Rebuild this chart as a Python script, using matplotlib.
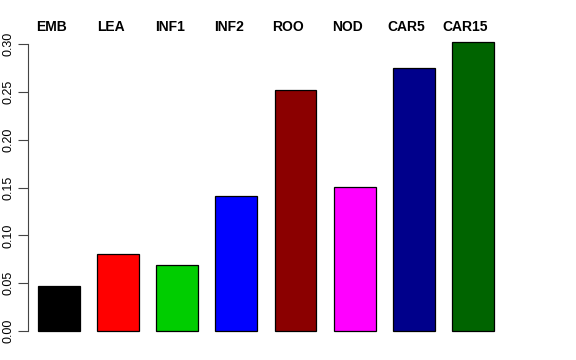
import matplotlib
matplotlib.use('Agg')
import matplotlib.pyplot as plt
import matplotlib.transforms as mtransforms

plt.rcParams['font.family'] = ['Liberation Sans', 'DejaVu Sans']

names = ['EMB', 'LEA', 'INF1', 'INF2', 'ROO', 'NOD', 'CAR5', 'CAR15']
values = [0.047, 0.0805, 0.069, 0.141, 0.252, 0.1505, 0.275, 0.302]
colors = ['#000000', '#FF0000', '#00CD00', '#0000FF', '#8B0000', '#FF00FF', '#00008B', '#006400']
yticks = [0.00, 0.05, 0.10, 0.15, 0.20, 0.25, 0.30]

W, H = 576, 360
fig = plt.figure(figsize=(W / 100, H / 100), dpi=100)
# axes placed in pixel units: left spine at x=28, 0 at y=331, 0.30 at y=44
ax = fig.add_axes([28 / W, 17.5 / H, 542 / W, 310 / H])

pos = [0.63 + 1.2 * i for i in range(len(names))]
ax.bar(pos, values, width=0.85, color=colors, edgecolor='black', linewidth=0.9, clip_on=False)

ax.set_xlim(0, 11)
ax.set_ylim(-0.012, 0.312)
ax.set_yticks(yticks)
ax.set_yticklabels(['%.2f' % v for v in yticks], rotation=90, va='center', fontsize=9)
ax.tick_params(axis='y', length=7, width=0.8, color='#444444', pad=3)
ax.set_xticks([])
for s in ['top', 'right', 'bottom']:
    ax.spines[s].set_visible(False)
ax.spines['left'].set_bounds(0, 0.30)
ax.spines['left'].set_color('#444444')
ax.spines['left'].set_linewidth(0.8)

# group labels above the plot
offset = mtransforms.offset_copy(ax.transData, fig=fig, x=-7.5, y=0, units='dots')
trans = mtransforms.blended_transform_factory(offset, fig.transFigure)
for p, n in zip(pos, names):
    ax.text(p, 1 - 27 / H, n, transform=trans, ha='center', va='center',
            fontsize=10, fontweight='bold')

plt.savefig('out.png', dpi=100)
